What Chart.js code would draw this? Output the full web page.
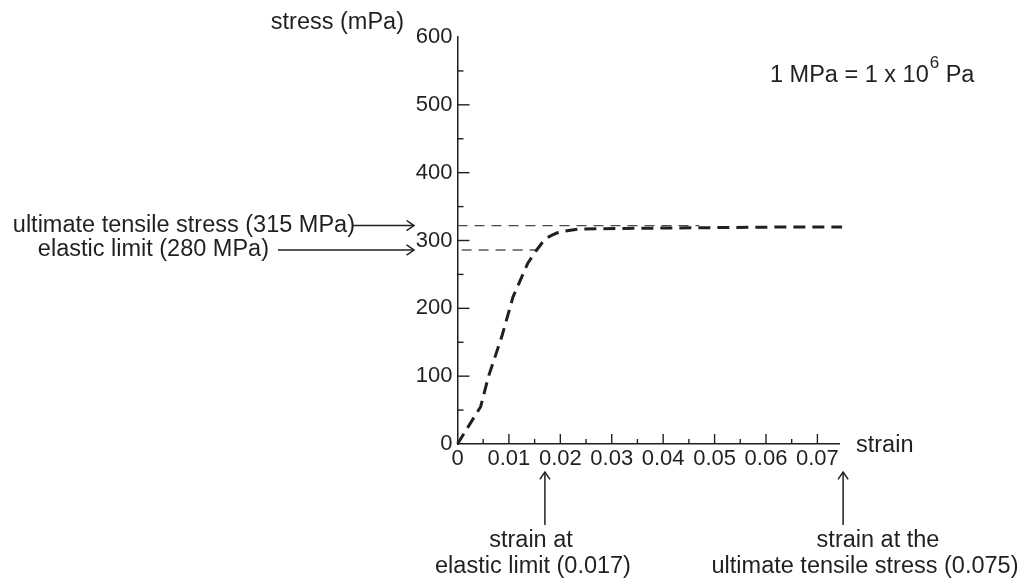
<!DOCTYPE html>
<html><head><meta charset="utf-8">
<script src="https://cdn.jsdelivr.net/npm/chart.js@4"></script>
<style>html,body{margin:0;padding:0;background:#fff;overflow:hidden}#wrap{width:1024px;height:583px;position:relative}</style>
</head><body><div id="wrap"><canvas id="c"></canvas></div>
<script>
// ---- data ----
const strain = [0, 0.0045, 0.006, 0.0086, 0.0108, 0.0137, 0.0154, 0.0165, 0.0174, 0.0184, 0.0193, 0.021, 0.0238, 0.035, 0.05, 0.065, 0.0748];
const stress = [0, 55, 99, 158, 217, 267, 286, 297, 304, 308, 311, 314, 317, 318, 319, 320, 320];
const utsStress = 322;          // ultimate tensile stress guide line (MPa)
const utsGuideEnd = 0.047;      // strain where the guide line ends
const elasticStress = 286;      // elastic limit guide line (MPa)
const elasticGuideEnd = 0.0154;
const elasticStrain = 0.017;
const utsStrain = 0.075;
const xTickValues = [0, 0.01, 0.02, 0.03, 0.04, 0.05, 0.06, 0.07];
const xTickLabels = ['0', '0.01', '0.02', '0.03', '0.04', '0.05', '0.06', '0.07'];
const yTickValues = [0, 100, 200, 300, 400, 500, 600];
const yTickLabels = ['0', '100', '200', '300', '400', '500', '600'];
const xMinorTicks = [0.005, 0.015, 0.025, 0.035, 0.045, 0.055, 0.065];
const yMinorTicks = [50, 150, 250, 350, 450, 550];
const labels = {
  yTitle: 'stress (mPa)', xTitle: 'strain',
  uts: 'ultimate tensile stress (315 MPa)', elastic: 'elastic limit (280 MPa)',
  bottom1a: 'strain at', bottom1b: 'elastic limit (0.017)',
  bottom2a: 'strain at the', bottom2b: 'ultimate tensile stress (0.075)'
};

const INK = '#231f20';
const FONT = '"Liberation Sans", Arial, Helvetica, sans-serif';
const TXT = '23.5px ' + FONT;

function arrow(ctx, x1, y1, x2, y2) {
  ctx.beginPath(); ctx.moveTo(x1, y1); ctx.lineTo(x2, y2); ctx.stroke();
  const a = Math.atan2(y2 - y1, x2 - x1), L = 9, w = 0.6;
  ctx.beginPath();
  ctx.moveTo(x2 - L * Math.cos(a - w), y2 - L * Math.sin(a - w));
  ctx.lineTo(x2, y2);
  ctx.lineTo(x2 - L * Math.cos(a + w), y2 - L * Math.sin(a + w));
  ctx.stroke();
}

const deco = {
  id: 'deco',
  afterDraw(chart) {
    const ctx = chart.ctx, xs = chart.scales.x, ys = chart.scales.y;
    const x0 = xs.getPixelForValue(0), y0 = ys.getPixelForValue(0);
    ctx.save();
    ctx.strokeStyle = INK; ctx.lineWidth = 1.4; ctx.lineCap = 'butt';
    // ticks (pointing inward)
    yTickValues.forEach(v => { if (v === 0 || v === 600) return; const p = ys.getPixelForValue(v);
      ctx.beginPath(); ctx.moveTo(x0, p); ctx.lineTo(x0 + 12, p); ctx.stroke(); });
    yMinorTicks.forEach(v => { const p = ys.getPixelForValue(v);
      ctx.beginPath(); ctx.moveTo(x0, p); ctx.lineTo(x0 + 6, p); ctx.stroke(); });
    xTickValues.forEach(v => { if (v === 0) return; const p = xs.getPixelForValue(v);
      ctx.beginPath(); ctx.moveTo(p, y0); ctx.lineTo(p, y0 - 10); ctx.stroke(); });
    xMinorTicks.forEach(v => { const p = xs.getPixelForValue(v);
      ctx.beginPath(); ctx.moveTo(p, y0); ctx.lineTo(p, y0 - 5); ctx.stroke(); });

    ctx.fillStyle = INK;
    ctx.font = TXT;
    ctx.textBaseline = 'middle';
    // axis titles
    ctx.textAlign = 'right'; ctx.fillText(labels.yTitle, 404, 23);
    ctx.textAlign = 'left'; ctx.fillText(labels.xTitle, 856, y0 + 2);
    // unit note with superscript
    let tx = 770; const ty = 76;
    const s1 = '1 MPa = 1 x 10'; ctx.fillText(s1, tx, ty); tx += ctx.measureText(s1).width;
    ctx.font = '17px ' + FONT; ctx.fillText('6', tx + 1, ty - 13); tx += ctx.measureText('6').width + 1;
    ctx.font = TXT; ctx.fillText(' Pa', tx, ty);

    // left annotations
    const yU = ys.getPixelForValue(utsStress), yE = ys.getPixelForValue(elasticStress);
    ctx.textAlign = 'right';
    ctx.fillText(labels.uts, 355, yU);
    ctx.fillText(labels.elastic, 269, yE);
    ctx.lineWidth = 1.5;
    arrow(ctx, 352, yU, 414, yU);
    arrow(ctx, 278, yE, 414, yE);

    // bottom annotations
    const xE = xs.getPixelForValue(elasticStrain), xU = xs.getPixelForValue(utsStrain);
    arrow(ctx, xE, 525, xE, 472);
    arrow(ctx, xU, 525, xU, 472);
    ctx.textAlign = 'center';
    ctx.fillText(labels.bottom1a, 531, 541);
    ctx.fillText(labels.bottom1b, 533, 567);
    ctx.fillText(labels.bottom2a, 878, 541);
    ctx.fillText(labels.bottom2b, 865, 567);
    ctx.restore();
  }
};

const curve = strain.map((x, i) => ({ x, y: stress[i] }));

new Chart(document.getElementById('c'), {
  type: 'line',
  data: {
    datasets: [
      { data: curve, borderColor: INK, borderWidth: 3, borderDash: [12, 7], pointRadius: 0, tension: 0, clip: false, fill: false },
      { data: [{ x: 0, y: utsStress }, { x: utsGuideEnd, y: utsStress }], borderColor: '#4a4a4a', borderWidth: 1.3, borderDash: [10, 7], pointRadius: 0, fill: false },
      { data: [{ x: 0.0008, y: elasticStress }, { x: elasticGuideEnd, y: elasticStress }], borderColor: '#5a5a5a', borderWidth: 1.3, borderDash: [10, 7], pointRadius: 0, fill: false }
    ]
  },
  options: {
    responsive: true, maintainAspectRatio: false, animation: false,
    layout: { padding: { top: 37, right: 185, left: 0, bottom: 0 } },
    plugins: { legend: { display: false }, tooltip: { enabled: false } },
    scales: {
      x: {
        type: 'linear', min: 0, max: 0.0742,
        grid: { display: false, drawTicks: false },
        border: { display: true, color: INK, width: 1.5 },
        afterFit(s) { s.height = 139; },
        afterBuildTicks(s) { s.ticks = xTickValues.map(v => ({ value: v })); },
        ticks: { color: INK, font: { size: 22, family: FONT }, padding: 2, maxRotation: 0, autoSkip: false,
          callback: (v) => { const i = xTickValues.findIndex(t => Math.abs(t - v) < 1e-9); return i >= 0 ? xTickLabels[i] : ''; } }
      },
      y: {
        type: 'linear', min: 0, max: 600,
        grid: { display: false, drawTicks: false },
        border: { display: true, color: INK, width: 1.5 },
        afterFit(s) { s.width = 457.5; },
        afterBuildTicks(s) { s.ticks = yTickValues.map(v => ({ value: v })); },
        ticks: { color: INK, font: { size: 22, family: FONT }, padding: 5, autoSkip: false,
          callback: (v) => { const i = yTickValues.indexOf(v); return i >= 0 ? yTickLabels[i] : ''; } }
      }
    }
  },
  plugins: [deco]
});
</script></body></html>
